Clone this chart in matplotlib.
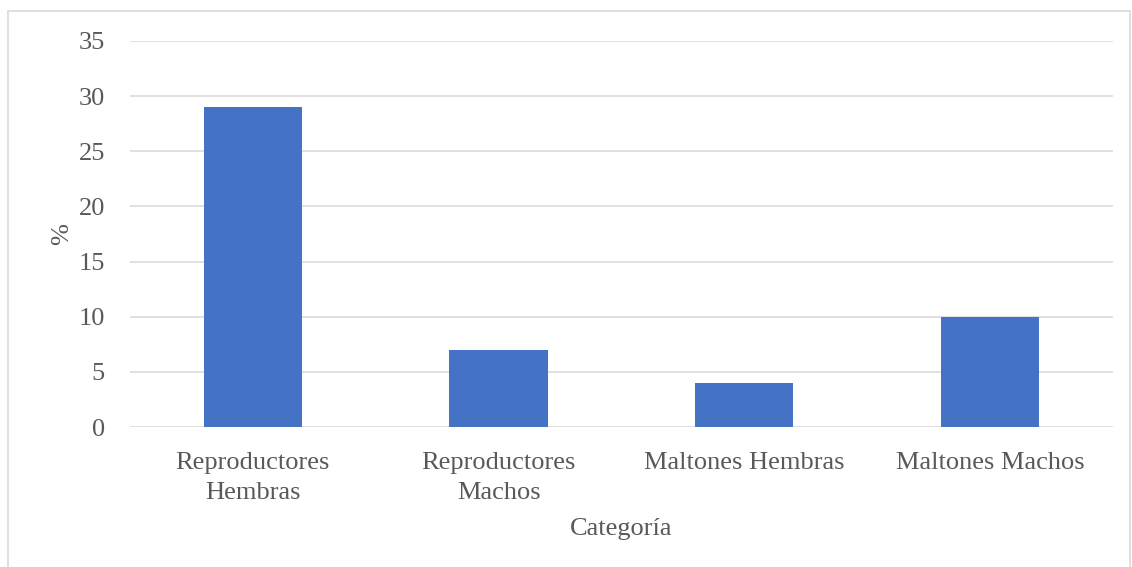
import matplotlib
matplotlib.use("Agg")
import matplotlib.pyplot as plt
from matplotlib.patches import Rectangle

# ── Data ──────────────────────────────────────────────────────────────────────
categorias = ["Reproductores\nHembras", "Reproductores\nMachos",
              "Maltones Hembras", "Maltones Machos"]
porcentajes = [29, 7, 4, 10]
y_ticks = [0, 5, 10, 15, 20, 25, 30, 35]

# ── Style ─────────────────────────────────────────────────────────────────────
BAR = "#4472C4"
GRID = "#D9D9D9"
TEXT = "#595959"
FS = 19
plt.rcParams["font.family"] = ["Liberation Serif", "DejaVu Serif"]

fig = plt.figure(figsize=(11.32, 5.67), dpi=100)
ax = fig.add_axes([0.1148, 0.2469, 0.8684, 0.6808])

x = range(len(categorias))
ax.bar(x, porcentajes, width=0.4, color=BAR, zorder=3)

ax.set_xlim(-0.5, len(categorias) - 0.5)
ax.set_ylim(0, 35)
ax.set_yticks(y_ticks)
ax.set_xticks(list(x))
ax.set_xticklabels(categorias, linespacing=1.45)

ax.grid(axis="y", color=GRID, linewidth=1.1, zorder=0)
for s in ax.spines.values():
    s.set_visible(False)
ax.tick_params(axis="both", length=0, labelsize=FS, colors=TEXT)
ax.tick_params(axis="y", pad=18)
ax.tick_params(axis="x", pad=18)

ax.set_xlabel("Categoría", fontsize=FS, color=TEXT, labelpad=10)
ax.set_ylabel("%", fontsize=FS, color=TEXT, labelpad=4)

# chart-area border
fig.patches.append(Rectangle((8 / 1132, -0.01), 1122 / 1132, 1 - 11 / 567 + 0.01,
                             transform=fig.transFigure, fill=False,
                             edgecolor=GRID, linewidth=1.2))

fig.savefig("out.png", dpi=100, facecolor="white")
